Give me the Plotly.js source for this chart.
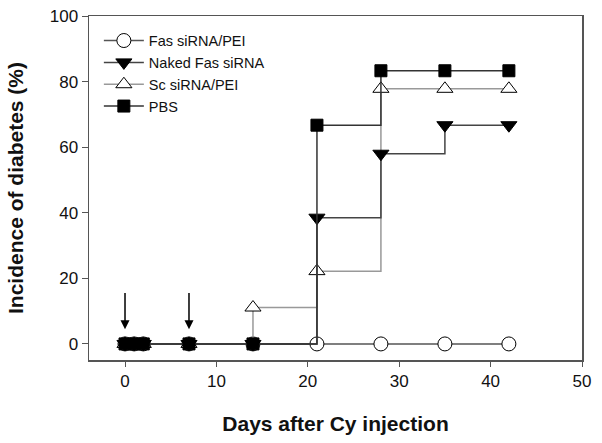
<!DOCTYPE html>
<html><head><meta charset="utf-8">
<script src="https://cdn.plot.ly/plotly-3.0.1.min.js"></script>
<style>html,body{margin:0;padding:0;background:#fff;}#chart{width:602px;height:443px;}</style>
</head><body><div id="chart"></div>
<script>
const days = [0, 1, 2, 7, 14, 21, 28, 35, 42];
const fasPei = [0, 0, 0, 0, 0, 0, 0, 0, 0];
const nakedFas = [0, 0, 0, 0, 0, 38.5, 58, 66.7, 66.7];
const scPei = [0, 0, 0, 0, 11.1, 22.2, 77.8, 77.8, 77.8];
const pbs = [0, 0, 0, 0, 0, 66.7, 83.3, 83.3, 83.3];
const names = ['Fas siRNA/PEI', 'Naked Fas siRNA', 'Sc siRNA/PEI', 'PBS'];
const injectionDays = [0, 7];

function tr(y, name, sym, fill, lineColor, size) {
  return {x: days, y: y, name: name, type: 'scatter', mode: 'lines+markers',
    line: {shape: 'hv', color: lineColor, width: 1.5},
    marker: {symbol: sym, size: size, color: fill, line: {color: '#000', width: 1}}};
}
const data = [
  tr(fasPei, names[0], 'circle', '#fff', '#555', 14),
  tr(scPei, names[2], 'triangle-up', '#fff', '#999', 14),
  tr(nakedFas, names[1], 'triangle-down', '#000', '#444', 14),
  tr(pbs, names[3], 'square', '#000', '#333', 12)
];
data[0].legendrank = 1; data[2].legendrank = 2; data[1].legendrank = 3; data[3].legendrank = 4;

const annotations = injectionDays.map(d => ({
  x: d, y: 4.5, xref: 'x', yref: 'y', ax: d, ay: 16, axref: 'x', ayref: 'y',
  showarrow: true, arrowhead: 2, arrowsize: 1.2, arrowwidth: 1.5, arrowcolor: '#000', text: ''
}));

const layout = {
  width: 602, height: 443,
  margin: {l: 89, r: 20, t: 16, b: 83},
  paper_bgcolor: '#fff', plot_bgcolor: '#fff',
  font: {family: 'Liberation Sans, Arial, sans-serif', color: '#111'},
  showlegend: true,
  legend: {x: 0.02, y: 0.975, xanchor: 'left', yanchor: 'top', bgcolor: 'rgba(0,0,0,0)',
    font: {size: 14.5}, tracegroupgap: 0, itemwidth: 40},
  xaxis: {range: [-3.94, 50], tickvals: [0, 10, 20, 30, 40, 50], showgrid: false, zeroline: false,
    showline: true, linecolor: '#555', linewidth: 1.5, mirror: true,
    ticks: 'outside', ticklen: 5, tickcolor: '#555', tickfont: {size: 17},
    title: {text: '<b>Days after Cy injection</b>', font: {size: 21}, standoff: 26}},
  yaxis: {range: [-4.9, 100], tickvals: [0, 20, 40, 60, 80, 100], showgrid: false, zeroline: false,
    showline: true, linecolor: '#555', linewidth: 1.5, mirror: true,
    ticks: 'outside', ticklen: 6, tickcolor: '#555', tickfont: {size: 17},
    title: {text: '<b>Incidence of diabetes (%)</b>', font: {size: 21}, standoff: 20}},
  annotations: annotations
};
Plotly.newPlot('chart', data, layout, {displayModeBar: false, staticPlot: true});
</script></body></html>
